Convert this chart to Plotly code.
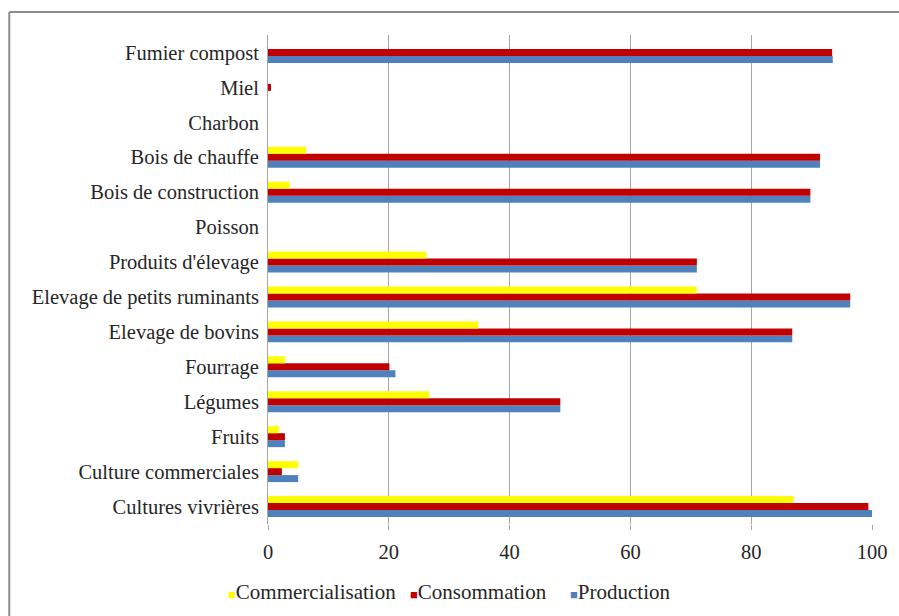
import plotly.graph_objects as go

categories = ["Cultures vivrières", "Culture commerciales", "Fruits", "Légumes", "Fourrage",
              "Elevage de bovins", "Elevage de petits ruminants", "Produits d'élevage", "Poisson",
              "Bois de construction", "Bois de chauffe", "Charbon", "Miel", "Fumier compost"]
production = [100, 5.0, 2.8, 48.4, 21.1, 86.8, 96.4, 71.0, 0, 89.8, 91.4, 0, 0, 93.5]
consommation = [99.4, 2.3, 2.8, 48.4, 20.1, 86.8, 96.4, 71.0, 0, 89.8, 91.4, 0, 0.5, 93.4]
commercialisation = [87.0, 5.0, 1.8, 26.7, 2.8, 34.8, 71.0, 26.2, 0, 3.6, 6.3, 0, 0, 0]
x_ticks = [0, 20, 40, 60, 80, 100]
series_names = ["Commercialisation", "Consommation", "Production"]
series_colors = ["#FFFF00", "#C00000", "#4F81BD"]

FONT = "Liberation Serif, Times New Roman, serif"
TXT = "#262626"

fig = go.Figure()
fig.add_trace(go.Bar(y=categories, x=production, name=series_names[2], orientation="h",
                     marker=dict(color=series_colors[2], line=dict(width=0)), showlegend=False))
fig.add_trace(go.Bar(y=categories, x=consommation, name=series_names[1], orientation="h",
                     marker=dict(color=series_colors[1], line=dict(width=0)), showlegend=False))
fig.add_trace(go.Bar(y=categories, x=commercialisation, name=series_names[0], orientation="h",
                     marker=dict(color=series_colors[0], line=dict(width=0)), showlegend=False))

L, R, T, B = 268, 24, 35, 92
W, H = 899, 616
pw, ph = W - L - R, H - T - B

def px_x(p):
    return (p - L) / pw

def px_y(p):
    return (T + ph - p) / ph

legend_x = [226, 409, 569]
annotations = []
for name, col, lx in zip(series_names, series_colors, legend_x):
    annotations.append(dict(
        xref="paper", yref="paper", x=px_x(lx), y=px_y(592), xanchor="left", yanchor="middle",
        showarrow=False,
        text=f'<span style="color:{col};font-size:13px">■</span>{name}',
        font=dict(family=FONT, size=21, color=TXT)))

fig.update_layout(
    width=W, height=H,
    margin=dict(l=L, r=R, t=T, b=B),
    barmode="group", bargap=0.4, bargroupgap=0,
    paper_bgcolor="white", plot_bgcolor="white",
    font=dict(family=FONT, size=20, color=TXT),
    showlegend=False,
    annotations=annotations,
    xaxis=dict(range=[0, 100], tickvals=x_ticks, showgrid=True, gridcolor="#A6A6A6",
               gridwidth=1, zeroline=False, showline=False, ticks="outside", ticklen=5,
               tickcolor="#A6A6A6", ticklabelstandoff=4,
               tickfont=dict(family=FONT, size=20.5, color=TXT)),
    yaxis=dict(type="category", showline=True, linecolor="#A6A6A6", linewidth=1,
               showgrid=False, ticks="", ticklabelstandoff=4,
               tickfont=dict(family=FONT, size=20.5, color=TXT), automargin=False),
    shapes=[
        dict(type="line", xref="paper", yref="paper", x0=px_x(8), x1=px_x(W + 10),
             y0=px_y(12), y1=px_y(12), line=dict(color="#8C8C8C", width=2)),
        dict(type="line", xref="paper", yref="paper", x0=px_x(8), x1=px_x(8),
             y0=px_y(12), y1=px_y(H + 10), line=dict(color="#8C8C8C", width=2)),
    ],
)

fig.write_html("out.html")
